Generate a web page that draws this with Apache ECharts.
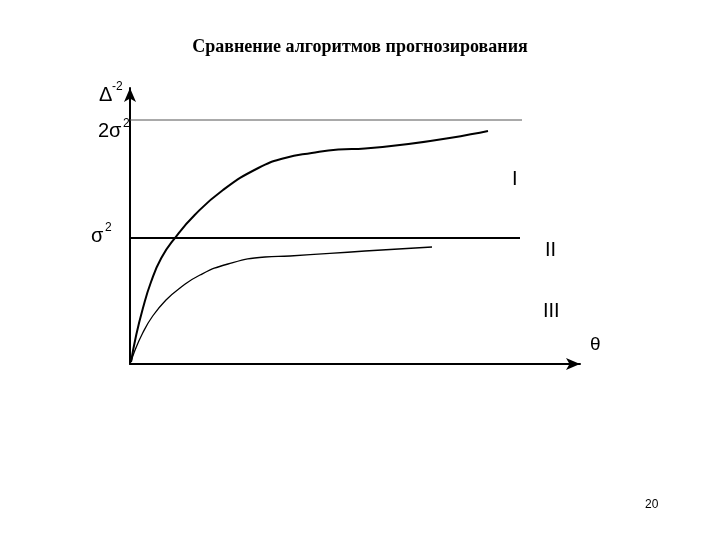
<!DOCTYPE html>
<html>
<head>
<meta charset="utf-8">
<script src="https://cdn.jsdelivr.net/npm/echarts@6/dist/echarts.min.js"></script>
<style>
  html, body { margin: 0; padding: 0; background: #fff; }
  #chart { width: 720px; height: 540px; }
</style>
</head>
<body>
<div id="chart"></div>
<script>
// кривая I — θ, Δ^-2
const curveI = [
  [0.01, 0.02], [0.06, 0.28], [0.127, 0.55], [0.21, 0.82], [0.313, 1.06],
  [0.447, 1.257], [0.647, 1.49], [0.93, 1.74], [1.283, 1.96],
  [1.55, 2.06], [1.817, 2.11], [2.083, 2.145], [2.35, 2.155], [3.58, 2.33]
]
// кривая II
const curveII = [
  [0.01, 0.02], [0.043, 0.12], [0.127, 0.31], [0.227, 0.48], [0.36, 0.64],
  [0.5, 0.76], [0.7, 0.89], [0.98, 1.0], [1.35, 1.07], [1.6, 1.08],
  [2.35, 1.13], [3.02, 1.17]
]
// уровни σ^2 и 2σ^2
const levelSigma = [[0, 1.26], [3.9, 1.26]]
const level2Sigma = [[0, 2.44], [3.92, 2.44]]
const xMax = 4.5
const yMax = 2.76

const sans = 'Liberation Sans, Arial, sans-serif'
function txt(x, y, s, size) {
  return {
    type: 'text', x: x, y: y,
    style: { text: s, font: size + 'px ' + sans, fill: '#000', verticalAlign: 'middle' }
  }
}

let myChart = echarts.init(document.getElementById('chart'))
let option = {
  animation: false,
  title: {
    text: 'Сравнение алгоритмов прогнозирования',
    left: 'center',
    top: 33,
    textStyle: {
      fontFamily: 'Liberation Serif, Times New Roman, serif',
      fontWeight: 'bold',
      fontSize: 18,
      color: '#000'
    }
  },
  grid: { left: 130, right: 140, top: 88, bottom: 176 },
  xAxis: {
    type: 'value',
    min: 0,
    max: xMax,
    axisLine: { show: true, symbol: ['none', 'arrow'], symbolSize: [9, 14], lineStyle: { color: '#000', width: 2 } },
    axisTick: { show: false },
    axisLabel: { show: false },
    splitLine: { show: false }
  },
  yAxis: {
    type: 'value',
    min: 0,
    max: yMax,
    axisLine: { show: true, symbol: ['none', 'arrow'], symbolSize: [9, 14], lineStyle: { color: '#000', width: 2 } },
    axisTick: { show: false },
    axisLabel: { show: false },
    splitLine: { show: false }
  },
  series: [
    {
      type: 'line', data: level2Sigma, symbol: 'none',
      lineStyle: { color: '#555', width: 1 }
    },
    {
      type: 'line', data: levelSigma, symbol: 'none',
      lineStyle: { color: '#000', width: 2 }
    },
    {
      type: 'line', data: curveI, symbol: 'none', smooth: 0.5,
      lineStyle: { color: '#000', width: 2 }
    },
    {
      type: 'line', data: curveII, symbol: 'none', smooth: 0.5,
      lineStyle: { color: '#000', width: 1.3 }
    }
  ],
  graphic: [
    txt(99, 95, 'Δ', 20),
    txt(112, 87, '-2', 12),
    txt(98, 131, '2σ', 20),
    txt(123, 124, '2', 12),
    txt(91, 236, 'σ', 20),
    txt(105, 228, '2', 12),
    txt(512, 179, 'I', 20),
    txt(545, 250, 'II', 20),
    txt(543, 311, 'III', 20),
    txt(590, 345, 'θ', 19),
    txt(645, 505, '20', 12)
  ]
}
myChart.setOption(option)
</script>
</body>
</html>
